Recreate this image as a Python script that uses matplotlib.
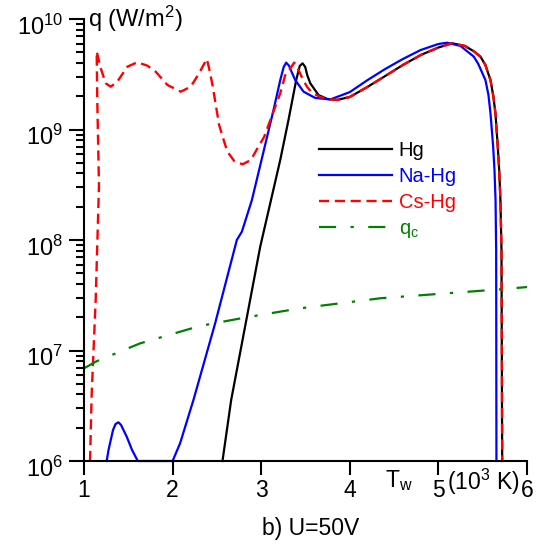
import numpy as np
import matplotlib
matplotlib.use("Agg")
import matplotlib.pyplot as plt
from matplotlib.ticker import LogLocator, NullFormatter
from matplotlib.transforms import ScaledTranslation

plt.rcParams['font.family'] = ['Liberation Sans', 'DejaVu Sans']
plt.rcParams['mathtext.fontset'] = 'custom'
plt.rcParams['mathtext.rm'] = 'Liberation Sans'
plt.rcParams['mathtext.it'] = 'Liberation Sans:italic'
plt.rcParams['mathtext.default'] = 'regular'

# Hg
t_hg = [2.563, 2.661, 2.989, 3.215, 3.308, 3.395, 3.435, 3.467, 3.497, 3.520, 3.554, 3.647,
        3.746, 3.855, 4.0, 4.2, 4.4, 4.6, 4.8, 5.0, 5.155, 5.3, 5.4, 5.475, 5.53, 5.588,
        5.62, 5.644, 5.670, 5.686, 5.70, 5.712, 5.720]
q_hg = [1.0e6, 3.56e6, 8.7e7, 5.3e8, 1.22e9, 2.8e9, 3.76e9, 3.97e9, 3.68e9, 3.1e9, 2.62e9, 2.05e9,
        1.89e9, 1.85e9, 1.97e9, 2.43e9, 3.05e9, 3.84e9, 4.72e9, 5.52e9, 6.03e9, 5.7e9, 5.1e9, 4.56e9,
        3.84e9, 2.8e9, 2.0e9, 1.4e9, 7.0e8, 4.3e8, 2.3e8, 8.1e7, 1.0e6]

# Na-Hg
t_na = [1.256, 1.277, 1.294, 1.328, 1.356, 1.388, 1.418, 1.482, 1.542, 1.607, 2.0, 2.085,
        2.235, 2.480, 2.725, 2.782, 2.895, 3.139, 3.215, 3.254, 3.282, 3.316, 3.339, 3.384,
        3.478, 3.610, 3.780, 4.0, 4.2, 4.4, 4.6, 4.8, 5.0, 5.098, 5.25, 5.4, 5.45, 5.531,
        5.565, 5.588, 5.618, 5.633, 5.645, 5.652, 5.655]
q_na = [1.0e6, 1.26e6, 1.45e6, 1.91e6, 2.16e6, 2.24e6, 2.12e6, 1.66e6, 1.26e6, 1.0e6, 1.0e6, 1.45e6,
        3.56e6, 1.76e7, 1.0e8, 1.19e8, 2.3e8, 1.5e9, 2.8e9, 3.68e9, 4.03e9, 3.76e9, 3.38e9, 2.8e9,
        2.2e9, 1.93e9, 1.87e9, 2.18e9, 2.8e9, 3.53e9, 4.35e9, 5.24e9, 5.94e9, 6.1e9, 5.7e9, 4.56e9,
        3.92e9, 2.8e9, 2.05e9, 1.4e9, 7.0e8, 4.3e8, 2.3e8, 8.1e7, 1.0e6]

# Cs-Hg
t_cs = [1.068, 1.087, 1.132, 1.169, 1.150, 1.143, 1.189, 1.245, 1.302, 1.376, 1.489, 1.602,
        1.715, 1.810, 1.941, 2.093, 2.205, 2.299, 2.386, 2.412, 2.450, 2.525, 2.582, 2.619,
        2.695, 2.789, 2.884, 2.958, 3.034, 3.124, 3.215, 3.271, 3.339, 3.373, 3.407, 3.452,
        3.516, 3.576, 3.667, 3.757, 3.855, 4.0, 4.2, 4.4, 4.6, 4.8, 5.0, 5.155, 5.3, 5.4,
        5.475, 5.53, 5.588, 5.62, 5.644, 5.670, 5.686, 5.70, 5.712, 5.720]
q_cs = [1.0e6, 4.1e6, 2.9e7, 3.1e8, 1.8e9, 5.1e9, 3.58e9, 2.62e9, 2.44e9, 2.71e9, 3.7e9, 4.06e9,
        3.78e9, 3.33e9, 2.53e9, 2.2e9, 2.44e9, 3.23e9, 4.35e9, 3.58e9, 2.53e9, 1.1e9, 7.76e8, 6.3e8,
        5.19e8, 4.84e8, 5.3e8, 6.76e8, 8.6e8, 1.35e9, 2.13e9, 3.1e9, 3.68e9, 4.03e9, 3.68e9, 3.05e9,
        2.44e9, 2.14e9, 1.97e9, 1.89e9, 1.85e9, 1.97e9, 2.43e9, 3.05e9, 3.84e9, 4.72e9, 5.52e9, 6.03e9,
        5.7e9, 5.1e9, 4.56e9, 3.84e9, 2.8e9, 2.0e9, 1.4e9, 7.0e8, 4.3e8, 2.3e8, 8.1e7, 1.0e6]

# q_c
t_c = [1.0, 1.143, 1.633, 2.311, 2.838, 3.441, 4.345, 5.701, 6.0]
q_c = [6.9e6, 8.0e6, 1.16e7, 1.67e7, 2.0e7, 2.41e7, 2.97e7, 3.58e7, 3.75e7]

fig = plt.figure(figsize=(5.47, 5.44), dpi=100)
ax = fig.add_axes([84/547, 83/544, 443/547, 442/544])

ax.plot(t_hg, q_hg, color='black', lw=1.6, label='Hg', clip_on=False)
ax.plot(t_na, q_na, color='blue', lw=1.6, label='Na-Hg', clip_on=False)
ax.plot(t_cs, q_cs, color='red', lw=1.7, ls=(0, (4.3, 2.4)), label='Cs-Hg')
ax.plot(t_c, q_c, color='green', lw=1.6, ls=(0, (7.7, 6.5, 1.45, 6.5)), label='q$_c$')

ax.set_yscale('log')
ax.set_xlim(1, 6)
ax.set_ylim(1e6, 1e10)
ax.set_xticks([1, 2, 3, 4, 5, 6])
ax.yaxis.set_minor_locator(LogLocator(base=10, subs=np.arange(2, 10)))
ax.yaxis.set_minor_formatter(NullFormatter())

for s in ['top', 'right']:
    ax.spines[s].set_visible(False)
for s in ['left', 'bottom']:
    ax.spines[s].set_linewidth(1.5)
ax.tick_params(axis='x', which='major', length=10, width=1.5, labelsize=16.5, pad=3)
ax.tick_params(axis='y', which='major', length=11, width=1.5, labelsize=17, pad=4)
ax.tick_params(axis='y', which='minor', length=6, width=1.5)

fig.canvas.draw()
shift = ScaledTranslation(0, -4/72, fig.dpi_scale_trans)
for lab in ax.get_yticklabels():
    lab.set_transform(lab.get_transform() + shift)

fig.text(88/547, 1 - 27/544, 'q (W/m$^2$)', fontsize=17, va='baseline', ha='left')
fig.text(385/547, 1 - 481/544, 'T$_w$', fontsize=16.5, va='center', ha='left')
fig.text(447/547, 1 - 482/544, '(10$^3$ K)', fontsize=16.5, va='center', ha='left')
fig.text(311/547, 1 - 529/544, 'b) U=50V', fontsize=16.5, va='center', ha='center')

leg = ax.legend(loc='upper left', bbox_to_anchor=(319/547, 1 - 141/544),
                bbox_transform=fig.transFigure, frameon=False, fontsize=14.5,
                handlelength=3.6, handletextpad=0.35, labelspacing=0.35,
                borderpad=0, borderaxespad=0, labelcolor='linecolor')

fig.savefig('out.png', dpi=100)
